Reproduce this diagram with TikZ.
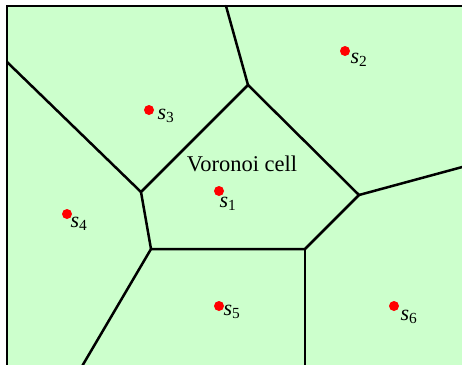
\documentclass[tikz,border=0pt]{standalone}
\usepackage{fontspec}
\setmainfont{Liberation Serif}
\begin{document}
\begin{tikzpicture}[x=1pt,y=-1pt,
  edge/.style={line width=2.5pt, line cap=round, line join=round},
  site/.style={circle, fill=red, inner sep=0pt, minimum size=10pt},
  sitelabel/.style={inner sep=0pt, font=\fontsize{22}{24}\selectfont},
  caption/.style={inner sep=0pt, font=\fontsize{22.5}{26}\selectfont}]
  \definecolor{cellgreen}{RGB}{204,255,204}
  \useasboundingbox (0,0) rectangle (462,364);
  \clip (0,0) rectangle (462,364);

  % region and its frame
  \fill[cellgreen] (7,6) rectangle (470,370);
  \draw[line width=2.5pt] (7,372) -- (7,6) -- (470,6);

  % Voronoi vertices
  \coordinate (vtop)   at (226,6);
  \coordinate (vB)     at (248,85);
  \coordinate (vleft)  at (7,62);
  \coordinate (vC)     at (141,192);
  \coordinate (vD)     at (151,249);
  \coordinate (vE)     at (305,249);
  \coordinate (vF)     at (359,195);
  \coordinate (vright) at (466,166);
  \coordinate (vbotL)  at (81,368);
  \coordinate (vbotR)  at (305,368);

  % Voronoi edges
  \draw[edge] (vtop) -- (vB);
  \draw[edge] (vleft) -- (vC);
  \draw[edge] (vB) -- (vC) -- (vD) -- (vE) -- (vF) -- cycle;
  \draw[edge] (vF) -- (vright);
  \draw[edge] (vD) -- (vbotL);
  \draw[edge] (vE) -- (vbotR);

  % sites
  \node[site] (s1) at (219,191) {};
  \node[site] (s2) at (345,51) {};
  \node[site] (s3) at (149,110) {};
  \node[site] (s4) at (67,214) {};
  \node[site] (s5) at (219,306) {};
  \node[site] (s6) at (394,306) {};

  % site labels
  \node[sitelabel] (l1) at (228,204) {\textit{s}\textsubscript{1}};
  \node[sitelabel] (l2) at (359,60) {\textit{s}\textsubscript{2}};
  \node[sitelabel] (l3) at (166,116) {\textit{s}\textsubscript{3}};
  \node[sitelabel] (l4) at (79,224) {\textit{s}\textsubscript{4}};
  \node[sitelabel] (l5) at (232,312) {\textit{s}\textsubscript{5}};
  \node[sitelabel] (l6) at (409,317) {\textit{s}\textsubscript{6}};

  \node[caption, anchor=base] (cap) at (242,171.5) {Voronoi cell};
\end{tikzpicture}
\end{document}
